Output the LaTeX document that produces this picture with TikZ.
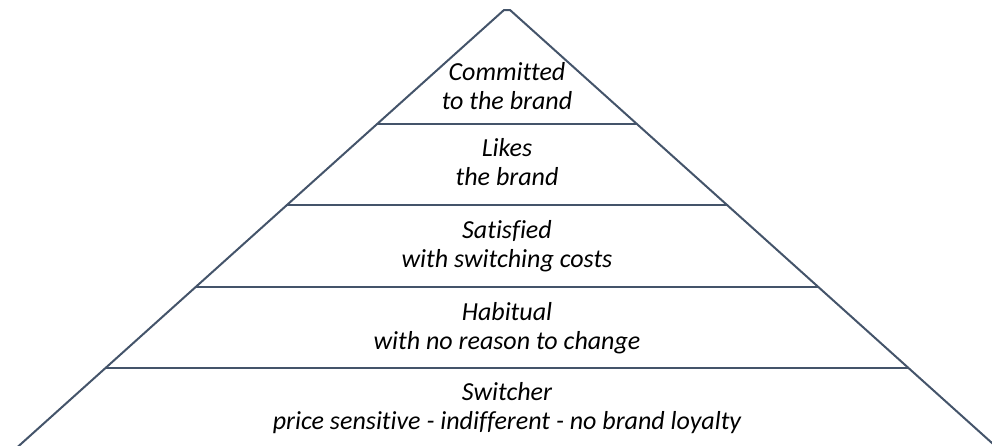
\documentclass[tikz,border=0pt]{standalone}
\usepackage{fontspec}
\setmainfont{Carlito}[Ligatures=NoCommon]
\usetikzlibrary{calc}
\definecolor{slate}{HTML}{44546A}
\newcommand{\tworows}[2]{\rule{0pt}{20pt}#1\\#2\rule[-6pt]{0pt}{6pt}}
\begin{document}
\begin{tikzpicture}[x=1pt,y=-1pt,
  edge/.style={draw=slate,line width=2pt,line join=round},
  tier/.style={align=center,inner sep=0pt,
    font=\fontsize{26}{29}\selectfont\itshape}]
\useasboundingbox (0,0) rectangle (992,445);
% outline of the pyramid, running past the lower edge
\coordinate (apexL) at (504,10);
\coordinate (apexR) at (510,10);
\coordinate (baseL) at (19.8,445);
\coordinate (baseR) at (994.2,445);
\begin{scope}
\clip (0,0) rectangle (992,445);
\draw[edge] ($(apexL)!1.05!(baseL)$) -- (apexL) -- (apexR) -- ($(apexR)!1.05!(baseR)$);
\end{scope}
% dividing lines between the tiers
\foreach \t/\n in {0.2632/a,0.4494/b,0.6368/c,0.8230/d}{
  \coordinate (l\n) at ($(apexL)!\t!(baseL)$);
  \coordinate (r\n) at ($(apexR)!\t!(baseR)$);
  \draw[edge] (l\n) -- (r\n);
}
% tier labels, top to bottom
\node[tier] (t1) at (507,88)  {\tworows{Committed}{to the brand}};
\node[tier] (t2) at (507,164) {\tworows{Likes}{the brand}};
\node[tier] (t3) at (507,246) {\tworows{Satisfied}{with switching costs}};
\node[tier] (t4) at (507,328) {\tworows{Habitual}{with no reason to change}};
\node[tier] (t5) at (507,408) {\tworows{Switcher}{price sensitive - indifferent - no brand loyalty}};
\end{tikzpicture}
\end{document}
